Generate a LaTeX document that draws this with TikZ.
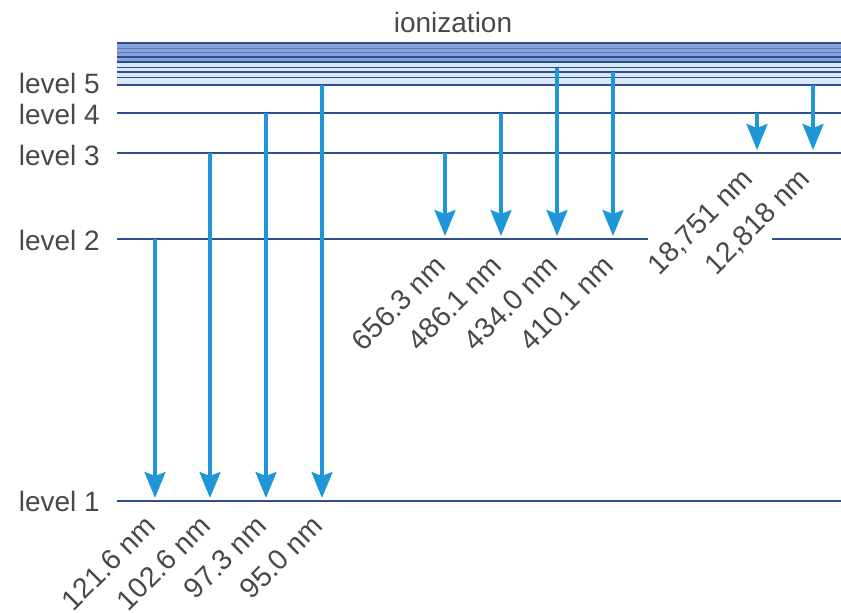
\documentclass[tikz,border=0pt]{standalone}
\usepackage{fontspec}
\setmainfont{Liberation Sans}
\usetikzlibrary{arrows.meta}
\definecolor{lvl}{HTML}{2E4F8F}
\definecolor{arrc}{HTML}{1E96D7}
\definecolor{txt}{HTML}{484848}
\definecolor{bandmid}{HTML}{86A2D8}
\definecolor{bandstripe}{HTML}{5C7BBD}
\definecolor{bandlight}{HTML}{D9E7F7}
\tikzset{
  levelline/.style={draw=lvl, line width=2.8pt},
  bandline/.style={draw=lvl, line width=1.4pt},
  stripe/.style={draw=bandstripe, line width=1pt},
  arr/.style={draw=arrc, line width=3.2pt, -{Stealth[length=26pt,width=21pt,inset=4pt]}, shorten >=3pt},
  lvltext/.style={text=txt, font=\fontsize{28}{28}\selectfont, anchor=east, inner sep=0pt},
  wl/.style={text=txt, font=\fontsize{28.5}{28.5}\selectfont, rotate=45, anchor=east, inner sep=0pt},
}
\begin{document}
\begin{tikzpicture}[x=1pt,y=-1pt]
\useasboundingbox (0,0) rectangle (841,613);
% ionization band
\fill[bandmid] (117,43) rectangle (841,63);
\fill[bandlight] (117,63) rectangle (841,85);
\foreach \yy in {48,52.5}{
  \draw[stripe] (117,\yy) -- (841,\yy);
}
\foreach \yy in {43,57,62,67.5,72,77.5}{
  \draw[bandline] (117,\yy) -- (841,\yy);
}
\node[text=txt, font=\fontsize{28}{28}\selectfont, inner sep=0pt] (ion) at (453,22) {ionization};
% level coordinates
\coordinate (l5a) at (117,85);  \coordinate (l5b) at (841,85);
\coordinate (l4a) at (117,113); \coordinate (l4b) at (841,113);
\coordinate (l3a) at (117,153); \coordinate (l3b) at (841,153);
\coordinate (l2a) at (117,239); \coordinate (l2b) at (648,239);
\coordinate (l2c) at (772,239); \coordinate (l2d) at (841,239);
\coordinate (l1a) at (117,501); \coordinate (l1b) at (841,501);
\draw[levelline] (l5a) -- (l5b);
\draw[levelline] (l4a) -- (l4b);
\draw[levelline] (l3a) -- (l3b);
\draw[levelline] (l2a) -- (l2b);
\draw[levelline] (l2c) -- (l2d);
\draw[levelline] (l1a) -- (l1b);
% level labels
\node[lvltext] (t5) at (100,83) {level 5};
\node[lvltext] (t4) at (100,114) {level 4};
\node[lvltext] (t3) at (100,155) {level 3};
\node[lvltext] (t2) at (100,240) {level 2};
\node[lvltext] (t1) at (100,501) {level 1};
% Lyman
\coordinate (ly1s) at (155,239); \coordinate (ly1e) at (155,501);
\coordinate (ly2s) at (210,153); \coordinate (ly2e) at (210,501);
\coordinate (ly3s) at (266,113); \coordinate (ly3e) at (266,501);
\coordinate (ly4s) at (322,85);  \coordinate (ly4e) at (322,501);
\draw[arr] (ly1s) -- (ly1e);
\draw[arr] (ly2s) -- (ly2e);
\draw[arr] (ly3s) -- (ly3e);
\draw[arr] (ly4s) -- (ly4e);
% Balmer
\coordinate (ba1s) at (445,153); \coordinate (ba1e) at (445,239);
\coordinate (ba2s) at (501,113); \coordinate (ba2e) at (501,239);
\coordinate (ba3s) at (557,68);  \coordinate (ba3e) at (557,239);
\coordinate (ba4s) at (613,72);  \coordinate (ba4e) at (613,239);
\draw[arr] (ba1s) -- (ba1e);
\draw[arr] (ba2s) -- (ba2e);
\draw[arr] (ba3s) -- (ba3e);
\draw[arr] (ba4s) -- (ba4e);
% Paschen
\coordinate (pa1s) at (757,113); \coordinate (pa1e) at (757,153);
\coordinate (pa2s) at (813,85);  \coordinate (pa2e) at (813,153);
\draw[arr] (pa1s) -- (pa1e);
\draw[arr] (pa2s) -- (pa2e);
% wavelength labels
\node[wl] (w1) at (151,521) {121.6 nm};
\node[wl] (w2) at (206,521) {102.6 nm};
\node[wl] (w3) at (262,521) {97.3 nm};
\node[wl] (w4) at (318,521) {95.0 nm};
\node[wl] (w5) at (441,261) {656.3 nm};
\node[wl] (w6) at (497,261) {486.1 nm};
\node[wl] (w7) at (553,261) {434.0 nm};
\node[wl] (w8) at (609,261) {410.1 nm};
\node[wl] (w9) at (749,175) {18,751 nm};
\node[wl] (w10) at (806,175) {12,818 nm};
\end{tikzpicture}
\end{document}
